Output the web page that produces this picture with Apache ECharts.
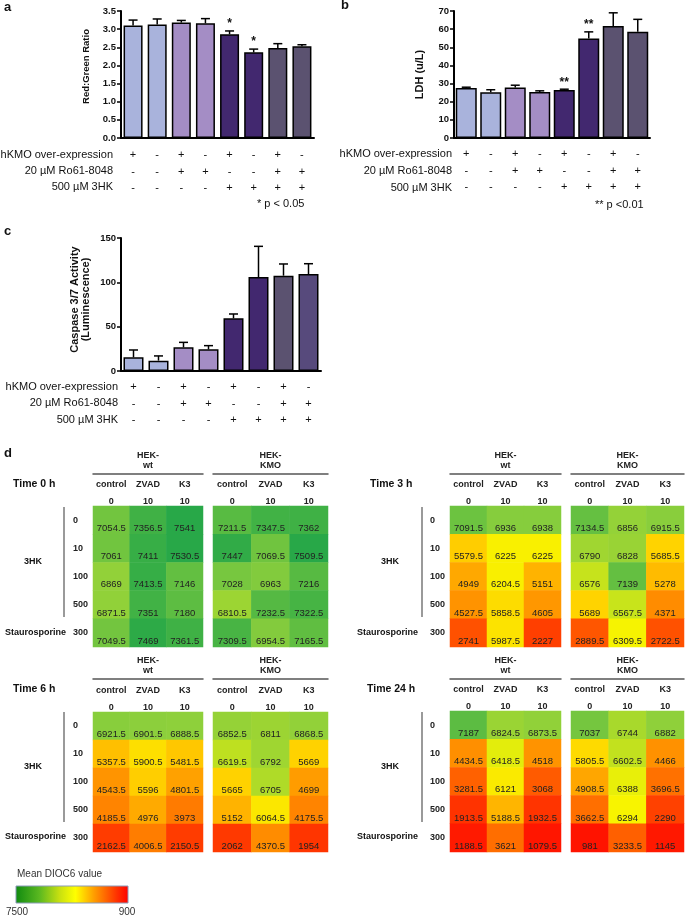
<!DOCTYPE html>
<html><head><meta charset="utf-8">
<script src="https://cdn.jsdelivr.net/npm/echarts@6/dist/echarts.min.js"></script>
<style>html,body{margin:0;padding:0;background:#fff}#c{width:685px;height:918px}</style>
</head><body><div id="c"></div>
<script>
// ---------- DATA ----------
const groups = ['1','2','3','4','5','6','7','8'];
const hkmoRow = ['+','-','+','-','+','-','+','-'];
const roRow   = ['-','-','+','+','-','-','+','+'];
const hkRow   = ['-','-','-','-','+','+','+','+'];
const rowTitles = ['hKMO over-expression','20 µM Ro61-8048','500 µM 3HK'];

const ratioMean = [3.10,3.13,3.18,3.16,2.86,2.36,2.48,2.53];
const ratioErr  = [0.15,0.15,0.06,0.13,0.09,0.09,0.12,0.04];
const ratioSig  = ['','','','','*','*','',''];

const ldhMean = [27.6,25.2,27.8,25.4,26.4,54.8,61.8,58.5];
const ldhErr  = [0.4,1.4,1.3,0.6,0.5,3.7,7.2,6.9];
const ldhSig  = ['','','','','**','**','',''];

const caspMean = [15.4,11.7,26.7,24.4,59.4,106,107.5,109.4];
const caspErr  = [8.3,5.3,5.6,4.2,4.9,34.6,13.2,11.6];

const colNames = ['control','ZVAD','K3'];
const colDose  = ['0','10','10'];
const rowLabels = ['0','10','100','500','300'];

const t0wt   = [[7054.5,7356.5,7541],[7061,7411,7530.5],[6869,7413.5,7146],[6871.5,7351,7180],[7049.5,7469,7361.5]];
const t0kmo  = [[7211.5,7347.5,7362],[7447,7069.5,7509.5],[7028,6963,7216],[6810.5,7232.5,7322.5],[7309.5,6954.5,7165.5]];
const t3wt   = [[7091.5,6936,6938],[5579.5,6225,6225],[4949,6204.5,5151],[4527.5,5858.5,4605],[2741,5987.5,2227]];
const t3kmo  = [[7134.5,6856,6915.5],[6790,6828,5685.5],[6576,7139,5278],[5689,6567.5,4371],[2889.5,6309.5,2722.5]];
const t6wt   = [[6921.5,6901.5,6888.5],[5357.5,5900.5,5481.5],[4543.5,5596,4801.5],[4185.5,4976,3973],[2162.5,4006.5,2150.5]];
const t6kmo  = [[6852.5,6811,6868.5],[6619.5,6792,5669],[5665,6705,4699],[5152,6064.5,4175.5],[2062,4370.5,1954]];
const t24wt  = [[7187,6824.5,6873.5],[4434.5,6418.5,4518],[3281.5,6121,3068],[1913.5,5188.5,1932.5],[1188.5,3621,1079.5]];
const t24kmo = [[7037,6744,6882],[5805.5,6602.5,4466],[4908.5,6388,3696.5],[3662.5,6294,2290],[981,3233.5,1145]];

const scaleMin = 900, scaleMax = 7500;

// ---------- STYLE ----------
const FONT = "'Liberation Sans', Arial, sans-serif";
const INK = '#111';
const barColorsAB = ['#a9b3dc','#a9b3dc','#a48dc5','#a48dc5','#42286f','#42286f','#5b5270','#5b5270'];
const barColorsC  = ['#a9b3dc','#a9b3dc','#a48dc5','#a48dc5','#42286f','#42286f','#5b5270','#574a7c'];

const grids = [], xAxes = [], yAxes = [], series = [], graphic = [];

function txt(x, y, text, o) {
  o = o || {};
  return {type:'text', x:x, y:y, silent:true, style:{
    text:text, fill:o.fill||INK, fontFamily:FONT, fontSize:o.size||11,
    fontWeight:o.weight||'normal', align:o.align||'left', verticalAlign:o.va||'middle',
    lineHeight:o.lh
  }};
}
function gline(x1,y1,x2,y2,color,w){
  return {type:'line', silent:true, shape:{x1,y1,x2,y2}, style:{stroke:color, lineWidth:w}};
}

function barPanel(g, mean, err, sig, colors, yMax, yInt, yName, nameCfg, fmt, lblMargin) {
  const gi = grids.length;
  grids.push(g);
  xAxes.push({
    gridIndex:gi, type:'category', data:groups,
    axisLine:{lineStyle:{color:'#000', width:2}},
    axisTick:{alignWithLabel:true, length:4, lineStyle:{color:'#000', width:1.5}},
    axisLabel:{interval:0, fontSize:11, lineHeight:16.5, margin:lblMargin, color:INK, fontFamily:FONT,
      formatter:(v,i)=>hkmoRow[i]+'\n'+roRow[i]+'\n'+hkRow[i]}
  });
  yAxes.push({
    gridIndex:gi, type:'value', min:0, max:yMax, interval:yInt,
    axisLine:{show:true, lineStyle:{color:'#000', width:2}},
    axisTick:{show:true, length:4, lineStyle:{color:'#000', width:1.5}},
    splitLine:{show:false},
    axisLabel:{fontSize:9.5, fontWeight:'bold', color:INK, margin:5, fontFamily:FONT, formatter:fmt},
    name:yName, nameLocation:'middle', nameGap:nameCfg.gap, nameRotate:90,
    nameTextStyle:{fontSize:nameCfg.size, fontWeight:'bold', color:INK, fontFamily:FONT, lineHeight:nameCfg.lh,
      padding:nameCfg.pad}
  });
  series.push({
    type:'bar', xAxisIndex:gi, yAxisIndex:gi, barWidth:g.bw,
    data: mean.map((m,i)=>({value:m, itemStyle:{color:colors[i]}})),
    itemStyle:{borderColor:'#000', borderWidth:1.5}, silent:true
  });
  series.push({
    type:'custom', xAxisIndex:gi, yAxisIndex:gi, z:5, silent:true,
    data: mean.map((m,i)=>[i, m, err[i]]),
    encode:{x:0, y:1},
    renderItem:(params, api)=>{
      const i = api.value(0), m = api.value(1), e = api.value(2);
      const p0 = api.coord([i, m]), p1 = api.coord([i, m+e]);
      const hw = 4.5;
      const ch = [
        {type:'line', shape:{x1:p0[0],y1:p0[1],x2:p1[0],y2:p1[1]}, style:{stroke:'#000', lineWidth:1.5}},
        {type:'line', shape:{x1:p1[0]-hw,y1:p1[1],x2:p1[0]+hw,y2:p1[1]}, style:{stroke:'#000', lineWidth:1.5}}
      ];
      if (sig && sig[params.dataIndex]) {
        ch.push({type:'text', x:p1[0], y:p1[1]-1, style:{text:sig[params.dataIndex], fill:INK,
          fontFamily:FONT, fontSize:12, fontWeight:'bold', align:'center', verticalAlign:'bottom'}});
      }
      return {type:'group', children:ch};
    }
  });
}

barPanel({left:121, top:11, width:193, height:127, bw:19}, ratioMean, ratioErr, ratioSig, barColorsAB,
  3.5, 0.5, 'Red:Green Ratio', {gap:30, size:9.5, lh:10, pad:[0,0,0,16]}, v=>v.toFixed(1), 9);
barPanel({left:454, top:11, width:196, height:127, bw:21}, ldhMean, ldhErr, ldhSig, barColorsAB,
  70, 10, 'LDH (u/L)', {gap:28, size:11, lh:12, pad:0}, null, 8);
barPanel({left:121, top:238, width:200, height:133, bw:20}, caspMean, caspErr, null, barColorsC,
  150, 50, 'Caspase 3/7 Activity\n(Luminescence)', {gap:30, size:11, lh:11, pad:[0,0,0,10]}, null, 8);

// row titles + notes
[[113,155],[113,171],[113,187]].forEach((p,i)=>graphic.push(txt(p[0],p[1],rowTitles[i],{align:'right'})));
[[452,154],[452,171],[452,188]].forEach((p,i)=>graphic.push(txt(p[0],p[1],rowTitles[i],{align:'right'})));
[[118,387],[118,403],[118,420]].forEach((p,i)=>graphic.push(txt(p[0],p[1],rowTitles[i],{align:'right'})));
graphic.push(txt(257,204,'* p < 0.05'));
graphic.push(txt(595,205,'** p <0.01'));
graphic.push(txt(4,7,'a',{size:13,weight:'bold'}));
graphic.push(txt(341,5,'b',{size:13,weight:'bold'}));
graphic.push(txt(4,231,'c',{size:13,weight:'bold'}));
graphic.push(txt(4,453,'d',{size:13,weight:'bold'}));

// ---------- HEATMAPS ----------
const heatPanels = [
  {data:t0wt,   line:'HEK-\nwt',  left:93,  top:506, width:110, height:141, off:32, rows:true},
  {data:t0kmo,  line:'HEK-\nKMO', left:213, top:506, width:115, height:141, off:32, rows:false},
  {data:t3wt,   line:'HEK-\nwt',  left:450, top:506, width:111, height:141, off:32, rows:true},
  {data:t3kmo,  line:'HEK-\nKMO', left:571, top:506, width:113, height:141, off:32, rows:false},
  {data:t6wt,   line:'HEK-\nwt',  left:93,  top:712, width:110, height:140, off:33, rows:true},
  {data:t6kmo,  line:'HEK-\nKMO', left:213, top:712, width:115, height:140, off:33, rows:false},
  {data:t24wt,  line:'HEK-\nwt',  left:450, top:711, width:111, height:141, off:32, rows:true},
  {data:t24kmo, line:'HEK-\nKMO', left:571, top:711, width:113, height:141, off:32, rows:false}
];
const heatSeriesIdx = [];
heatPanels.forEach(p=>{
  const gi = grids.length;
  grids.push({left:p.left, top:p.top, width:p.width, height:p.height});
  xAxes.push({
    gridIndex:gi, type:'category', data:colNames, position:'top',
    axisLine:{show:false}, axisTick:{show:false},
    axisLabel:{interval:0, fontSize:9, fontWeight:'bold', color:'#222', fontFamily:FONT,
      lineHeight:17, margin:-4, formatter:(v,i)=>v+'\n'+colDose[i]}
  });
  xAxes.push({
    gridIndex:gi, type:'category', data:colNames, position:'top', offset:p.off,
    axisLine:{show:true, lineStyle:{color:'#555', width:1.5}}, axisTick:{show:false}, axisLabel:{show:false},
    name:p.line, nameLocation:'middle', nameGap:3,
    nameTextStyle:{fontSize:9, fontWeight:'bold', color:'#222', fontFamily:FONT, lineHeight:10.5}
  });
  yAxes.push({
    gridIndex:gi, type:'category', data:rowLabels, inverse:true,
    axisLine:{show:false}, axisTick:{show:false},
    axisLabel:{show:p.rows, align:'left', margin:20, fontSize:9, fontWeight:'bold', color:'#222', fontFamily:FONT}
  });
  const d = [];
  p.data.forEach((row,r)=>row.forEach((v,c)=>d.push([c, r, v])));
  heatSeriesIdx.push(series.length);
  series.push({
    type:'heatmap', xAxisIndex:xAxes.length-2, yAxisIndex:yAxes.length-1, data:d, silent:true,
    label:{show:true, position:'insideBottom', distance:1, fontSize:9.5, color:'#222', fontFamily:FONT,
      formatter:q=>String(q.value[2])},
    itemStyle:{borderWidth:0}
  });
});

// heatmap side labels
[[13,484,'Time 0 h'],[370,484,'Time 3 h'],[13,689,'Time 6 h'],[367,689,'Time 24 h']].forEach(t=>
  graphic.push(txt(t[0],t[1],t[2],{size:10.5,weight:'bold'})));
[[33,562],[390,562],[33,767],[390,767]].forEach(t=>
  graphic.push(txt(t[0],t[1],'3HK',{size:9,weight:'bold',align:'center'})));
[[5,633],[357,633],[5,837],[357,837]].forEach(t=>
  graphic.push(txt(t[0],t[1],'Staurosporine',{size:9,weight:'bold'})));
graphic.push(gline(64,507,64,617,'#9a9a9a',2));
graphic.push(gline(422,507,422,617,'#9a9a9a',2));
graphic.push(gline(64,712,64,822,'#9a9a9a',2));
graphic.push(gline(422,712,422,822,'#9a9a9a',2));

// legend
graphic.push(txt(17,874,'Mean DIOC6 value',{size:10,fill:'#333'}));
graphic.push({type:'rect', silent:true, shape:{x:16,y:886,width:112,height:17},
  style:{fill:{type:'linear',x:0,y:0,x2:1,y2:0,colorStops:[
    {offset:0,color:'#108a10'},{offset:0.21,color:'#5ab820'},{offset:0.39,color:'#c8e010'},
    {offset:0.53,color:'#ffff00'},{offset:0.69,color:'#ffa000'},{offset:0.9,color:'#ff3000'},{offset:1,color:'#ff0000'}]},
    stroke:'#8a9ab8', lineWidth:1}});
graphic.push(txt(17,912,'7500',{size:10,fill:'#333',align:'center'}));
graphic.push(txt(127,912,'900',{size:10,fill:'#333',align:'center'}));

const option = {
  animation:false,
  textStyle:{fontFamily:FONT},
  grid:grids, xAxis:xAxes, yAxis:yAxes, series:series, graphic:graphic,
  visualMap:{
    type:'continuous', show:false, min:scaleMin, max:scaleMax, dimension:2, seriesIndex:heatSeriesIdx,
    inRange:{color:['#ff1000','#ff2400','#ff3a00','#ff5000','#ff6200','#ff7800','#ff9200','#ffb000','#ffd400','#f8f400','#8ccf3c','#28a848']}
  }
};
const chart = echarts.init(document.getElementById('c'), null, {renderer:'canvas'});
chart.setOption(option);
</script></body></html>
